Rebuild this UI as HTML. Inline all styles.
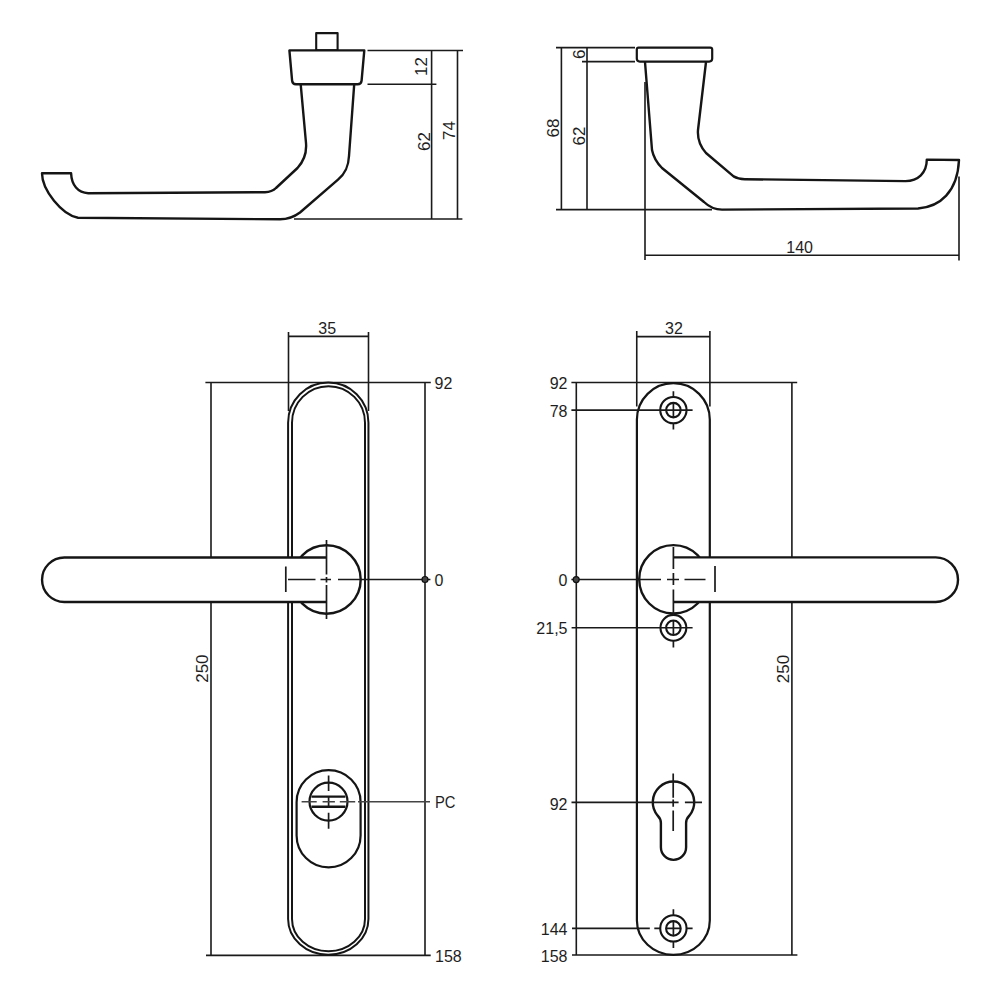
<!DOCTYPE html>
<html><head><meta charset="utf-8">
<style>
html,body{margin:0;padding:0;background:#fff;}
svg{display:block;}
text{font-family:"Liberation Sans",sans-serif;font-size:16px;fill:#1e1e1e;}
text.r{font-size:17px;}
.o{fill:none;stroke:#151515;stroke-width:2.4;stroke-linejoin:round;stroke-linecap:butt;}
.w{fill:#fff;stroke:#151515;stroke-width:2.4;stroke-linejoin:round;}
.d{fill:none;stroke:#1a1a1a;stroke-width:1.6;}
.c{fill:none;stroke:#1a1a1a;stroke-width:1.7;}
.h{fill:none;stroke:#151515;stroke-width:2.1;}
</style></head>
<body>
<svg width="1000" height="1000" viewBox="0 0 1000 1000">
<!-- ===== TOP LEFT VIEW ===== -->
<rect class="o" style="stroke-width:2.1" x="316.2" y="33.1" width="21.4" height="17.2"/>
<path class="w" d="M289.4,50.4 L364.3,50.4 L361.6,80.6 Q361.2,84.2 357.6,84.2 L296,84.2 Q292.5,84.2 292.1,80.6 Z"/>
<path class="o" d="M300.7,84.4 L306,143 C307,155 303,162 297.5,168 L276,188 Q272,192 265,192.2 L88.2,193.2 C78,193 71.5,185 71.1,173.3 L42,173.3 C42,190 62,215 78,217.7 L280,219.3 C288,219.3 294,217 300,212.5 L338,179.7 C346,173 348.5,166 349,156 L354.2,84.4"/>
<path class="d" d="M367.5,50.5H463 M367.5,84.3H436.4 M294,219H462.4 M431.6,50.5V219 M457.5,50.5V219"/>
<text class="r" transform="translate(420.5,66.6) rotate(-90)" x="0" y="6.1" text-anchor="middle">12</text>
<text class="r" transform="translate(424,141.6) rotate(-90)" x="0" y="6.1" text-anchor="middle">62</text>
<text class="r" transform="translate(448.8,130.6) rotate(-90)" x="0" y="6.1" text-anchor="middle">74</text>

<!-- ===== TOP RIGHT VIEW ===== -->
<path class="o" style="stroke-width:2.2" d="M638.6,47.6 L710.2,47.6 Q712.2,47.6 712.2,49.6 L712.2,58.6 Q712.2,61.6 709.2,61.6 L639.8,61.6 Q636.8,61.6 636.8,58.6 L636.8,49.6 Q636.8,47.6 638.6,47.6 Z"/>
<path class="o" d="M645,62 L652,150 Q654,160 662,168 L704,202 Q712,209.6 722,209.6 L918,208.5 C940,207 957.5,192 959,160 L926.8,159.6 C926.8,173 918,181 905.5,181.1 L744.8,179.2 Q738,179 733.6,176.4 L706,153 Q697,143 698,130 L706,62"/>
<path class="d" d="M556,47.6H635 M582,61.6H635 M556,209.6H712 M561.4,47.6V209.6 M587,47.6V209.6 M645,82V260 M959,176.4V260.4 M645,255.3H959"/>
<text class="r" transform="translate(553,128) rotate(-90)" x="0" y="6.1" text-anchor="middle">68</text>
<text class="r" transform="translate(579,136) rotate(-90)" x="0" y="6.1" text-anchor="middle">62</text>
<text class="r" transform="translate(579,54.2) rotate(-90)" x="0" y="6.1" text-anchor="middle">6</text>
<text x="799.6" y="252.8" text-anchor="middle">140</text>

<!-- ===== BOTTOM LEFT VIEW ===== -->
<path class="d" d="M288.5,332V411 M368.5,332V411 M288.5,336.4H368.5 M205.4,382.5H430.8 M206,955.4H430.7 M211,382.5V955.4 M425,382.5V955.4"/>
<path class="o" style="stroke-width:2" d="M288.1,422.7 A40.175,40.175 0 0 1 368.45,422.7 L368.45,919 A40.175,35.8 0 0 1 288.1,919 Z"/>
<path class="o" style="stroke-width:2" d="M292,422.7 A36.5,36.5 0 0 1 365,422.7 L365,919 A36.5,32.3 0 0 1 292,919 Z"/>
<circle class="w" cx="326.5" cy="579.5" r="34.2"/>
<path class="w" d="M326.5,557.5 L64.3,557.5 A22.25,22.25 0 0 0 64.3,602 L326.5,602"/>
<path class="c" d="M288,579.5H315.5 M320.5,579.5H331 M338,579.5H430.4 M285.8,566.5V592 M326.5,540V574.5 M326.5,577V582.5 M326.5,585V619"/>
<circle cx="425" cy="579.5" r="3" fill="#444" stroke="#111" stroke-width="1.2"/>
<path class="o" style="stroke-width:2.2" d="M296.6,802.2 A32,32 0 0 1 360.6,802.2 L360.6,835.4 A32,32 0 0 1 296.6,835.4 Z"/>
<circle class="o" style="stroke-width:2.2" cx="328.5" cy="801.6" r="19"/>
<path class="o" d="M311.5,796.6H345.4 M311.5,806.75H345.4"/>
<path class="c" d="M328.6,775.6V791 M328.6,796.6V806.75 M328.6,812.7V828.8"/>
<path class="d" style="stroke:#444;stroke-width:1.5" d="M301.6,801.85H316.7 M322.6,801.85H334.9 M339.8,801.85H355.2 M358,801.85H430"/>
<text x="327.2" y="333.5" text-anchor="middle">35</text>
<text x="434.6" y="388.8">92</text>
<text x="434.6" y="585.9">0</text>
<text x="435" y="808" style="font-size:16.5px" textLength="20.5" lengthAdjust="spacingAndGlyphs">PC</text>
<text x="435" y="962">158</text>
<text class="r" transform="translate(201.4,668.6) rotate(-90)" x="0" y="6.1" text-anchor="middle">250</text>

<!-- ===== BOTTOM RIGHT VIEW ===== -->
<path class="d" d="M636.75,331V406.5 M709.9,331V406.5 M636.6,336.6H710.3 M571.4,382.5H797.2 M572,955H797.4 M576.3,382.3V955 M791.9,382.3V955"/>
<path class="o" style="stroke-width:2.2" d="M636.9,419.6 A36.45,36.45 0 0 1 709.8,419.6 L709.8,920.5 A36.45,34.4 0 0 1 636.9,920.5 Z"/>
<circle class="w" cx="673.4" cy="579.3" r="34.2"/>
<path class="w" d="M673.4,557.4 L935.7,557.4 A22.3,22.3 0 0 1 935.7,602 L673.4,602"/>
<path class="c" d="M571.4,579.5H661 M667,579.5H679 M684.5,579.5H705.5 M715,566V592 M673.4,547V569 M673.4,573V585 M673.4,589.5V613"/>
<circle cx="576.2" cy="579.6" r="3" fill="#444" stroke="#111" stroke-width="1.2"/>
<!-- holes -->
<g>
<circle class="h" cx="673.4" cy="410.1" r="13.15"/><circle class="h" cx="673.4" cy="410.1" r="7.25"/>
<path class="c" d="M673.4,391.2V396.9 M673.4,402.9V417.4 M673.4,423.3V429.6"/>
<path class="d" d="M571.4,410.1H692.6"/>
<circle class="h" cx="673.4" cy="627.8" r="12.9"/><circle class="h" cx="673.4" cy="627.8" r="7.25"/>
<path class="c" d="M673.4,613V614.9 M673.4,620.5V635 M673.4,640.7V647.6"/>
<path class="d" d="M571.6,627.8H692.6"/>
<circle class="h" cx="673.4" cy="928.4" r="13.15"/><circle class="h" cx="673.4" cy="928.4" r="7.3"/>
<path class="c" d="M673.4,909.2V915.2 M673.4,921.1V935.7 M673.4,941.6V948.1"/>
<path class="d" d="M572,928.4H649.8 M654.3,928.4H660.2 M666.1,928.4H680.7 M686.6,928.4H692.6"/>
</g>
<path class="o" d="M660.9,823 Q660.9,819 657.5,815.4 A20.7,20.7 0 1 1 689.5,815.4 Q686.1,819 686.1,823 L686.1,847.3 A12.6,12.6 0 0 1 660.9,847.3 Z"/>
<path class="c" d="M673.2,773.5V797.8 M673.2,799.6V806.8 M673.2,810.4V831 M571.5,802.3H678.6 M684.9,802.3H702"/>
<text x="673.9" y="334" text-anchor="middle">32</text>
<text x="567.5" y="388.6" text-anchor="end">92</text>
<text x="567.5" y="416.6" text-anchor="end">78</text>
<text x="567.5" y="585.8" text-anchor="end">0</text>
<text x="567.5" y="633.8" text-anchor="end">21,5</text>
<text x="567.5" y="809.6" text-anchor="end">92</text>
<text x="567.5" y="934.8" text-anchor="end">144</text>
<text x="567.5" y="962.1" text-anchor="end">158</text>
<text class="r" transform="translate(782.4,669) rotate(-90)" x="0" y="6.1" text-anchor="middle">250</text>
</svg>
</body></html>
